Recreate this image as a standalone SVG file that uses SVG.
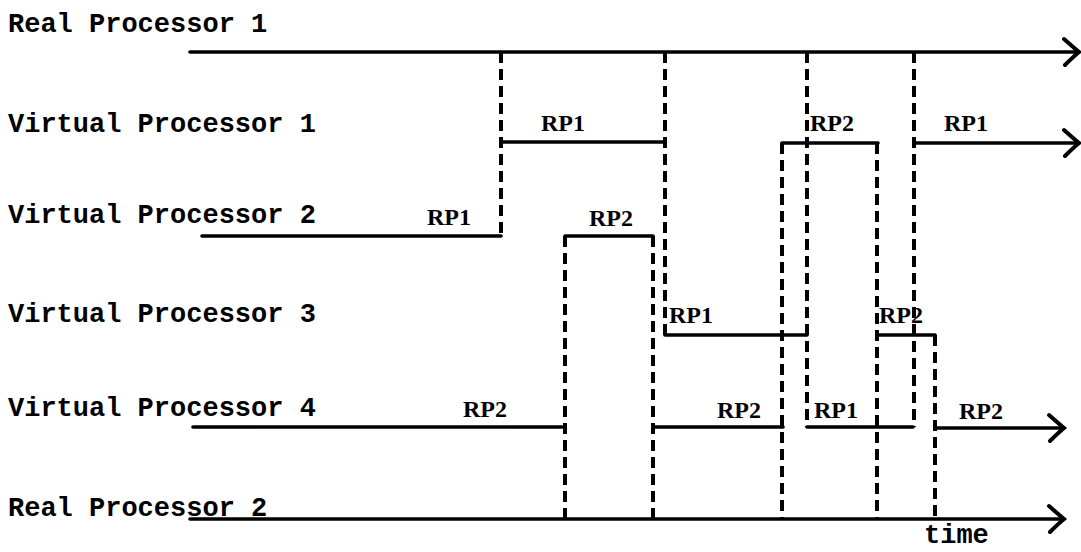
<svg xmlns="http://www.w3.org/2000/svg" width="1081" height="552" viewBox="0 0 1081 552">
<style>
.lbl{font-family:"Liberation Mono","DejaVu Sans Mono",monospace;font-weight:bold;font-size:27px;fill:#000}
.rp{font-family:"Liberation Serif","DejaVu Serif",serif;font-weight:bold;font-size:24px;fill:#000}
.ln{stroke:#000;stroke-width:3.6;fill:none;stroke-linecap:round;stroke-linejoin:round}
.dash{stroke:#000;stroke-width:4;fill:none;stroke-dasharray:11 6}
.arr{marker-end:url(#chev)}
</style>
<defs>
<marker id="chev" markerUnits="userSpaceOnUse" orient="auto" refX="0" refY="0" markerWidth="40" markerHeight="40" viewBox="-20 -20 40 40" overflow="visible">
<path d="M-15,-13 Q-6,-5 0,0 Q-6,5 -14,13" fill="none" stroke="#000" stroke-width="4" stroke-linecap="round"/>
</marker>
</defs>
<rect width="1081" height="552" fill="#fff"/>
<g id="rp1">
<text class="lbl" x="8" y="32">Real Processor 1</text>
<path class="ln arr" d="M190,52 H1079"/>
</g>
<g id="vp1">
<text class="lbl" x="8" y="132">Virtual Processor 1</text>
<path class="ln" d="M501,142 H665"/>
<text class="rp" x="541" y="131">RP1</text>
<path class="ln" d="M782,143 H878"/>
<text class="rp" x="810" y="131">RP2</text>
<path class="ln arr" d="M915,143 H1079"/>
<text class="rp" x="944" y="131">RP1</text>
</g>
<g id="vp2">
<text class="lbl" x="8" y="223">Virtual Processor 2</text>
<path class="ln" d="M202,236 H501"/>
<text class="rp" x="427" y="225">RP1</text>
<path class="ln" d="M565,236 H653"/>
<text class="rp" x="589" y="226">RP2</text>
</g>
<g id="vp3">
<text class="lbl" x="8" y="322">Virtual Processor 3</text>
<path class="ln" d="M665,335 H807"/>
<text class="rp" x="669" y="323">RP1</text>
<path class="ln" d="M877,335 H935"/>
<text class="rp" x="879" y="323">RP2</text>
</g>
<g id="vp4">
<text class="lbl" x="8" y="416">Virtual Processor 4</text>
<path class="ln" d="M193,427 H562"/>
<text class="rp" x="463" y="417">RP2</text>
<path class="ln" d="M653,427 H783"/>
<text class="rp" x="717" y="418">RP2</text>
<path class="ln" d="M807,427 H913"/>
<text class="rp" x="814" y="418">RP1</text>
<path class="ln arr" d="M935,428 H1064"/>
<text class="rp" x="959" y="419">RP2</text>
</g>
<g id="rp2">
<text class="lbl" x="8" y="516">Real Processor 2</text>
<path class="ln arr" d="M190,519 H1064"/>
<text class="lbl" x="924" y="543">time</text>
</g>
<g id="connectors">
<path class="dash" d="M501,52 V236"/>
<path class="dash" d="M665,52 V335"/>
<path class="dash" d="M807,52 V427"/>
<path class="dash" d="M914,52 V427"/>
<path class="dash" d="M565,236 V519"/>
<path class="dash" d="M653,236 V519"/>
<path class="dash" d="M782,143 V519"/>
<path class="dash" d="M877,143 V519"/>
<path class="dash" d="M935,335 V519"/>
</g>
</svg>
